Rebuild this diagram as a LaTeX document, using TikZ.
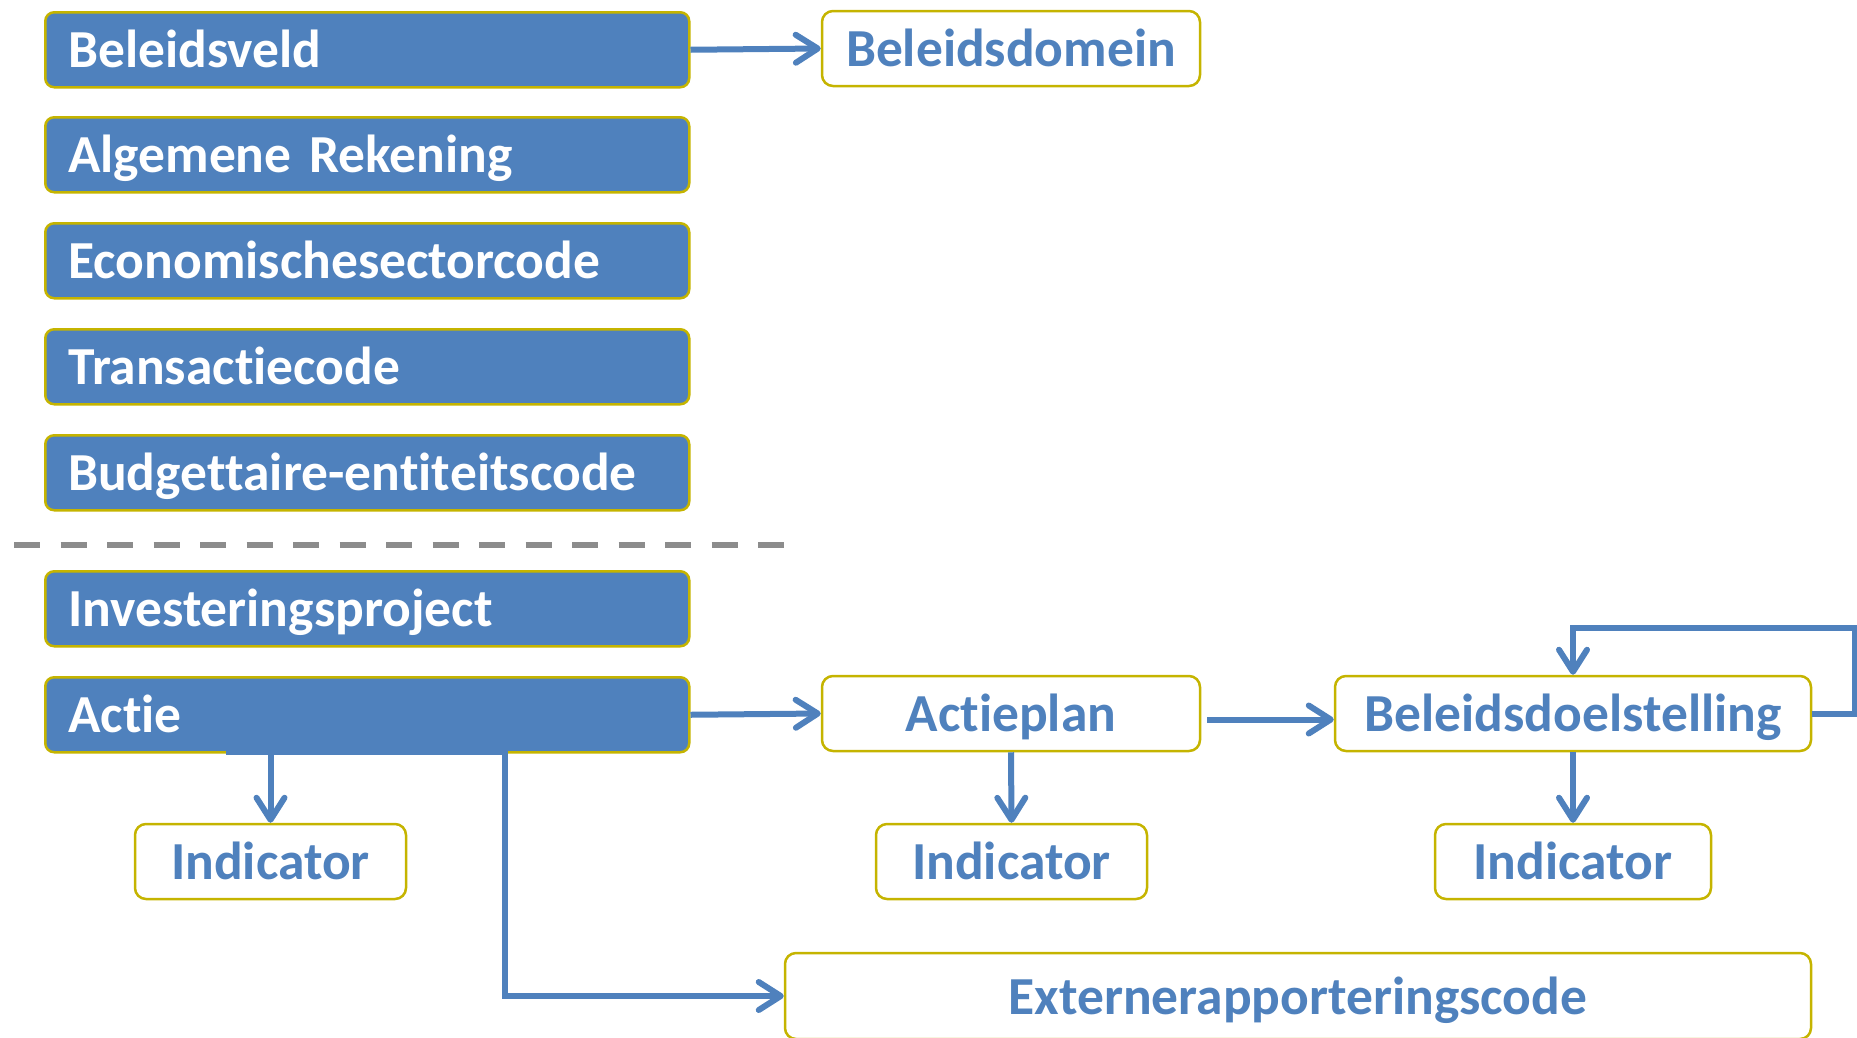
\documentclass[tikz,border=0pt]{standalone}
\usepackage{fontspec}
\setmainfont{Carlito}[RawFeature=-liga, RawFeature=-clig, RawFeature=-calt, RawFeature=-dlig]
\newcommand{\nolig}{\kern0pt{}}
\usetikzlibrary{arrows.meta}
\definecolor{obblue}{HTML}{4F81BD}
\definecolor{obgold}{RGB}{197,180,0}
\definecolor{obgray}{HTML}{8C8C8C}
\begin{document}
\begin{tikzpicture}[x=1pt,y=-1pt,
  base/.style={draw=obgold, line width=2.5pt, font=\bfseries\fontsize{53.5}{60}\selectfont,
    minimum height=75pt, inner ysep=0pt, text height=42pt, text depth=6pt},
  bluebox/.style={base, fill=obblue, text=white, rounded corners=9pt, anchor=north west,
    text width=598pt, inner xsep=23pt, align=left},
  whitebox/.style={base, fill=white, text=obblue, rounded corners=11pt, inner xsep=0pt},
  conn/.style={draw=obblue, line width=6pt},
  arr/.style={conn, -{Straight Barb[length=22pt,width=28pt,round]}}]
\useasboundingbox (0,0) rectangle (1857,1037);

% left column
\node[bluebox] (bv) at (44,11) {Beleidsveld};
\node[bluebox] (ar) at (44,116) {Algemene Rekening};
\node[bluebox] (ec) at (44,222) {Economischesectorcode};
\node[bluebox] (tr) at (44,328) {Transact\nolig iecode};
\node[bluebox] (bu) at (44,434) {Budgett\nolig aire-ent\nolig it\nolig eit\nolig scode};

% separator
\coordinate (sepl) at (14,545);
\coordinate (sepr) at (785,545);
\draw[obgray, line width=6pt, dash pattern=on 26.3pt off 20.2pt] (sepl) -- (sepr);

\node[bluebox] (inv) at (44,570) {Investeringsproject};
\node[bluebox] (actie) at (44,676) {Act\nolig ie};
\node[fill=obblue, inner sep=0pt, minimum width=282pt, minimum height=5pt, anchor=north west] (strip) at (226,749.5) {};

% right side
\node[whitebox, minimum width=378pt] (bd) at (1011,48.5) {Beleidsdomein};
\node[whitebox, minimum width=378pt] (ap) at (1011,713.5) {Act\nolig ieplan};
\node[whitebox, minimum width=476pt] (bds) at (1573,713.5) {Beleidsdoelstelling};
\node[whitebox, minimum width=271pt] (ind1) at (270.5,861.5) {Indicator};
\node[whitebox, minimum width=271pt] (ind2) at (1011.5,861.5) {Indicator};
\node[whitebox, minimum width=276pt] (ind3) at (1573,861.5) {Indicator};
\node[whitebox, minimum width=1026pt, minimum height=86pt] (ext) at (1298,996) {Externerapporteringscode};

% connectors
\draw[arr] (bv.east) -- (bd.west);
\draw[arr] (actie.east) -- (ap.west);
\draw[arr] ([xshift=6pt,yshift=-6pt]ap.east) -- ([yshift=-6pt]bds.west);
\draw[arr] (ap.south) -- (ind2.north);
\draw[arr] (bds.south) -- (ind3.north);
\coordinate (loopr) at (1855,627.5);
\draw[arr] (bds.east) -| (loopr) -| (bds.north);
\draw[arr] (strip.south -| ind1.north) -- (ind1.north);
\draw[arr] ([xshift=-3pt]strip.south east) |- (ext.west);
\end{tikzpicture}
\end{document}
